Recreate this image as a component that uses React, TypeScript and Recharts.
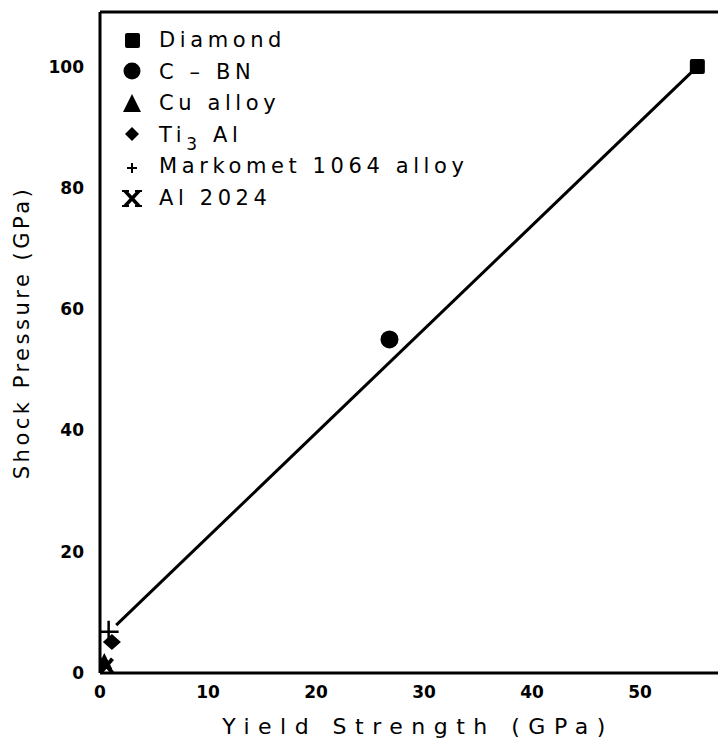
import { ScatterChart, Scatter, XAxis, YAxis, Legend, ReferenceLine } from "recharts";

// values (GPa)
const diamond = [{ x: 55.3, y: 100 }];
const cbn = [{ x: 26.8, y: 55 }];
const cuAlloy = [{ x: 0.4, y: 1.8 }];
const ti3al = [{ x: 1.1, y: 5.1 }];
const markomet = [{ x: 0.8, y: 6.8 }];
const al2024 = [{ x: 0.6, y: 1.2 }];
const fitLine = [{ x: 1.5, y: 7.9 }, { x: 55.3, y: 100 }];

const xTicks = [0, 10, 20, 30, 40, 50];
const yTicks = [0, 20, 40, 60, 80, 100];
const xMax = 61.1; // frame runs past the right edge of the picture
const yMax = 109;

const legendNames = ["Diamond", "C \u2013 BN", "Cu alloy", "Ti3 Al", "Markomet 1064 alloy", "Al 2024"];

const FONT = "'DejaVu Sans', sans-serif";

const Square = ({ cx, cy }: any) => <rect x={cx - 7.5} y={cy - 7.5} width={15} height={15} rx={2} fill="#000" />;
const Dot = ({ cx, cy }: any) => <circle cx={cx} cy={cy} r={9} fill="#000" />;
const Tri = ({ cx, cy }: any) => (
  <polygon points={`${cx},${cy - 9} ${cx + 8},${cy + 7} ${cx - 8},${cy + 7}`} fill="#000" />
);
const Diam = ({ cx, cy }: any) => (
  <polygon points={`${cx},${cy - 8} ${cx + 9},${cy} ${cx},${cy + 8} ${cx - 9},${cy}`} fill="#000" />
);
const Plus = ({ cx, cy }: any) => (
  <g stroke="#000" strokeWidth={2.5}>
    <line x1={cx - 12} y1={cy} x2={cx + 10} y2={cy} />
    <line x1={cx} y1={cy - 11} x2={cx} y2={cy + 9} />
  </g>
);
const Ex = ({ cx, cy }: any) => (
  <g stroke="#000" strokeWidth={4}>
    <line x1={cx - 6} y1={cy - 7} x2={cx + 6} y2={cy + 7} />
    <line x1={cx + 6} y1={cy - 7} x2={cx - 6} y2={cy + 7} />
  </g>
);

const legendIcon = (i: number) => {
  switch (i) {
    case 0:
      return <rect x={4} y={4} width={15} height={15} rx={2} fill="#000" />;
    case 1:
      return <circle cx={11} cy={11} r={8.5} fill="#000" />;
    case 2:
      return <polygon points="11,2 20,20 2,20" fill="#000" />;
    case 3:
      return <polygon points="11,4 18,11 11,18 4,11" fill="#000" />;
    case 4:
      return (
        <g stroke="#000" strokeWidth={2}>
          <line x1={6} y1={13} x2={16} y2={13} />
          <line x1={11} y1={8} x2={11} y2={18} />
        </g>
      );
    default:
      return (
        <g stroke="#000" strokeWidth={3.5}>
          <line x1={4} y1={5} x2={18} y2={20} />
          <line x1={18} y1={5} x2={4} y2={20} />
          <line x1={1} y1={5} x2={8} y2={5} strokeWidth={2} />
          <line x1={14} y1={5} x2={21} y2={5} strokeWidth={2} />
          <line x1={1} y1={20} x2={8} y2={20} strokeWidth={2} />
          <line x1={14} y1={20} x2={21} y2={20} strokeWidth={2} />
        </g>
      );
  }
};

const LegendBox = () => (
  <div style={{ fontFamily: FONT, fontSize: 21, letterSpacing: 4.6, color: "#000", lineHeight: "31.5px" }}>
    {legendNames.map((n, i) => (
      <div key={n} style={{ display: "flex", alignItems: "center", height: 31.5 }}>
        <svg width={22} height={24} style={{ marginRight: 16 }}>
          {legendIcon(i)}
        </svg>
        {n === "Ti3 Al" ? (
          <span>
            Ti<sub style={{ fontSize: 17, verticalAlign: -8, lineHeight: 0 }}>3</sub> Al
          </span>
        ) : (
          <span>{n}</span>
        )}
      </div>
    ))}
  </div>
);

export default function App() {
  return (
    <div style={{ position: "absolute", top: 0, left: 0, width: 718, height: 747, overflow: "hidden", background: "#fff" }}>
      <ScatterChart width={760} height={747} margin={{ top: 12, right: 0, bottom: 0, left: 0 }}>
        <XAxis
          type="number"
          dataKey="x"
          domain={[0, xMax]}
          ticks={xTicks}
          allowDataOverflow
          height={74}
          axisLine={{ stroke: "#000", strokeWidth: 3 }}
          tickLine={false}
          tick={{ fill: "#000", fontSize: 17, fontWeight: "bold", fontFamily: FONT }}
          tickMargin={7}
          label={{
            value: "Yield  Strength  (GPa)",
            position: "insideBottom",
            offset: 13,
            dx: -12,
            style: { fill: "#000", fontSize: 22, fontFamily: FONT, letterSpacing: 8.5, whiteSpace: "pre" },
          }}
        />
        <YAxis
          type="number"
          dataKey="y"
          domain={[0, yMax]}
          ticks={yTicks}
          allowDataOverflow
          width={100}
          axisLine={{ stroke: "#000", strokeWidth: 3 }}
          tickLine={false}
          tick={{ fill: "#000", fontSize: 17, fontWeight: "bold", fontFamily: FONT }}
          tickMargin={10}
          label={{
            value: "Shock  Pressure  (GPa)",
            angle: -90,
            position: "center",
            dx: -28,
            dy: -10,
            style: { fill: "#000", fontSize: 21, fontFamily: FONT, letterSpacing: 3.5, whiteSpace: "pre" },
          }}
        />
        <ReferenceLine y={yMax} stroke="#000" strokeWidth={3} />
        <Legend
          verticalAlign="middle"
          align="center"
          layout="vertical"
          content={<LegendBox />}
          wrapperStyle={{ top: 25, left: 121, width: 420 }}
        />
        <Scatter data={fitLine} line={{ stroke: "#000", strokeWidth: 3 }} shape={() => <g />} isAnimationActive={false} legendType="none" />
        <Scatter name="Diamond" data={diamond} shape={Square} isAnimationActive={false} />
        <Scatter name="C - BN" data={cbn} shape={Dot} isAnimationActive={false} />
        <Scatter name="Cu alloy" data={cuAlloy} shape={Tri} isAnimationActive={false} />
        <Scatter name="Ti3 Al" data={ti3al} shape={Diam} isAnimationActive={false} />
        <Scatter name="Markomet 1064 alloy" data={markomet} shape={Plus} isAnimationActive={false} />
        <Scatter name="Al 2024" data={al2024} shape={Ex} isAnimationActive={false} />
      </ScatterChart>
    </div>
  );
}
